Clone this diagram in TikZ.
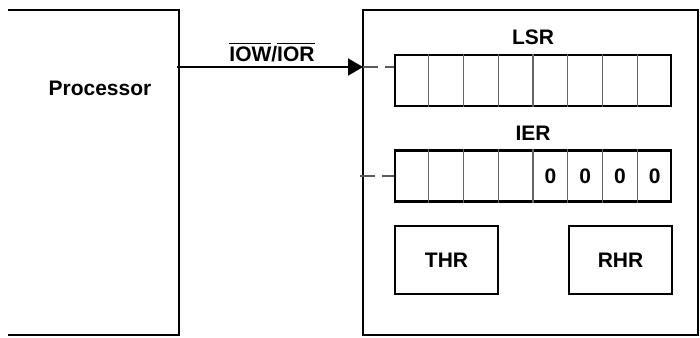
\documentclass[tikz,border=0pt]{standalone}
\usepackage{fontspec}
\setmainfont{Liberation Sans}
\usetikzlibrary{arrows.meta,calc}
\tikzset{
  lbl/.style={font=\fontsize{10.5}{12}\selectfont\bfseries, inner sep=0pt},
  outer/.style={line width=1.4pt},
  regbox/.style={draw, line width=1.1pt, minimum width=138pt, minimum height=25.5pt, inner sep=0pt},
  holdbox/.style={draw, line width=1.1pt, minimum width=51.5pt, minimum height=34pt, inner sep=0pt},
  cell/.style={line width=0.55pt, draw=black!60},
  tap/.style={line width=0.7pt, draw=black!65, dash pattern=on 7.5pt off 3.5pt}
}
\begin{document}
\begin{tikzpicture}[x=0.5pt,y=-0.5pt]
\useasboundingbox (0,0) rectangle (700,337);
% processor side
\draw[outer] (8,10) -- (179,10) -- (179,335) -- (8,335);
\node[lbl] (proc) at (100,88) {Processor};
% uart side
\draw[outer] (363,10) rectangle (698,335);
\node[regbox] (lsr) at (533,80.5) {};
\node[regbox] (ier) at (533,176) {};
\node[lbl] (lsrname) at (533,37) {LSR};
\node[lbl] (iername) at (533,133) {IER};
\foreach\i in {1,...,7}
{
\draw[cell] ($(lsr.north west)!\i/8!(lsr.north east)$) -- ($(lsr.south west)!\i/8!(lsr.south east)$);
\draw[cell] ($(ier.north west)!\i/8!(ier.north east)$) -- ($(ier.south west)!\i/8!(ier.south east)$);
}
\foreach\i in {4,...,7}
{
\node[lbl] (bit\i) at ($(ier.west)!{(\i+0.5)/8}!(ier.east)$) {0};
}
\node[holdbox] (thr) at (446.5,260) {};
\node[lbl] at (thr) {THR};
\node[holdbox] (rhr) at (620.5,260) {};
\node[lbl] at (rhr) {RHR};
% bus
\coordinate (pout) at (177,67);
\coordinate (din) at (363,67);
\coordinate (din2) at (360,176);
\draw[line width=1pt, -{Triangle[length=7.5pt, width=8.5pt]}] (pout) -- (din);
\node[lbl] (bus) at (272,52) {$\overline{\mbox{\bfseries IOW}}$/$\overline{\mbox{\bfseries IOR}}$};
\draw[tap] (din) -- (din -| lsr.west);
\draw[tap] (din2) -- (din2 -| ier.west);
\end{tikzpicture}
\end{document}
